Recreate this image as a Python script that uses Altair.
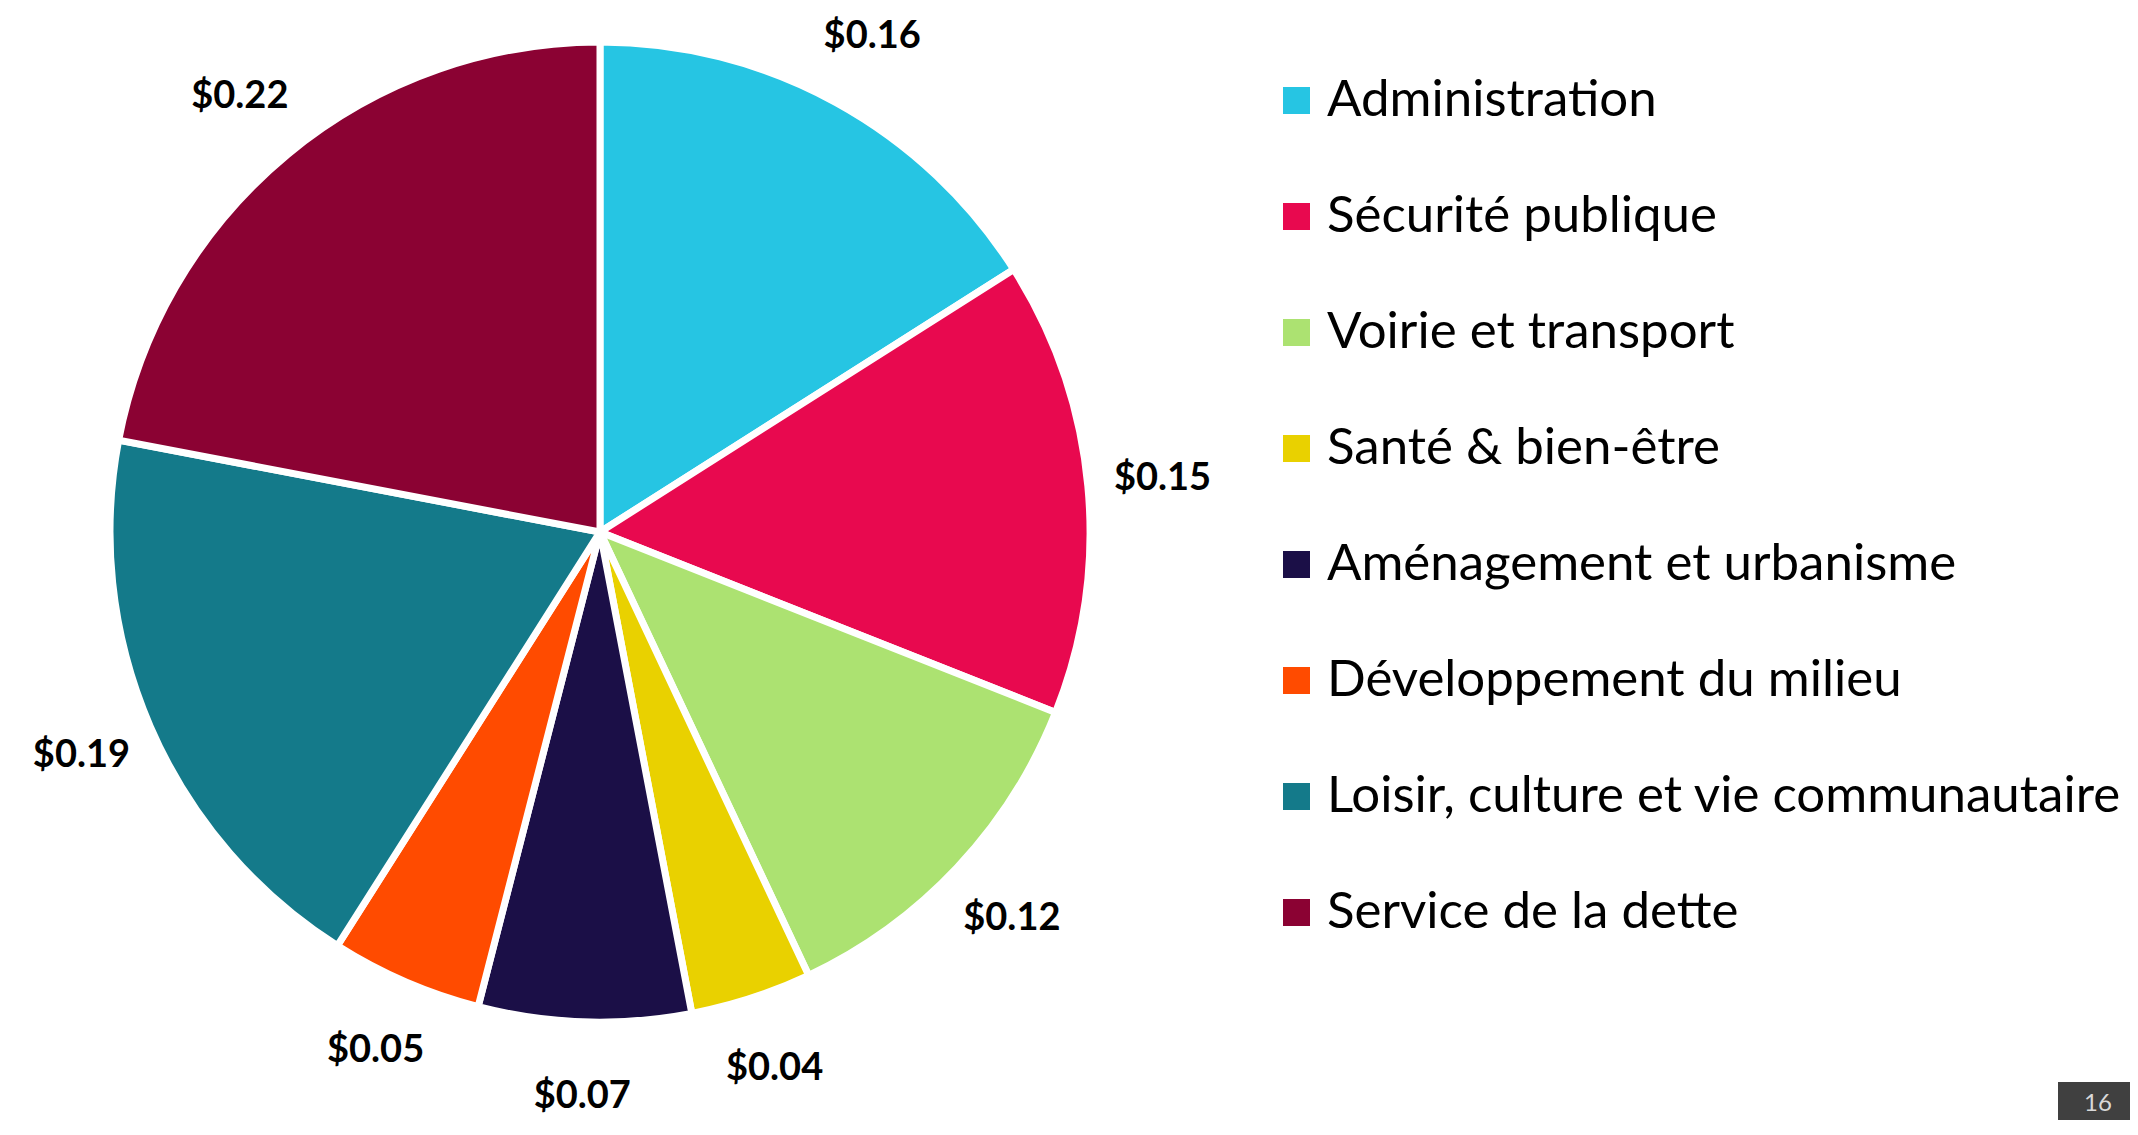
import altair as alt
import pandas as pd

categories = [
    "Administration",
    "Sécurité publique",
    "Voirie et transport",
    "Santé & bien-être",
    "Aménagement et urbanisme",
    "Développement du milieu",
    "Loisir, culture et vie communautaire",
    "Service de la dette",
]
values = [0.16, 0.15, 0.12, 0.04, 0.07, 0.05, 0.19, 0.22]
labels = ["$0.16", "$0.15", "$0.12", "$0.04", "$0.07", "$0.05", "$0.19", "$0.22"]
colors = ["#26C5E3", "#E8094F", "#ACE271", "#E9D100", "#1B0F47", "#FF4B00", "#147A8A", "#8B0233"]

df = pd.DataFrame({
    "categorie": categories,
    "valeur": values,
    "etiquette": labels,
    "ordre": list(range(len(categories))),
})

CX, CY = 592, 524
FONT = "Lato"

color = alt.Color(
    "categorie:N",
    scale=alt.Scale(domain=categories, range=colors),
    legend=alt.Legend(
        title=None,
        orient="none",
        legendX=1263,
        legendY=67,
        padding=0,
        symbolType="square",
        symbolSize=729,
        symbolStrokeWidth=0,
        labelFont=FONT,
        labelFontSize=51,
        labelColor="#000000",
        labelOffset=5,
        labelLimit=1200,
        rowPadding=64,
    ),
)

base = alt.Chart(df).encode(
    theta=alt.Theta("valeur:Q", stack=True),
    order=alt.Order("ordre:Q"),
    x=alt.value(CX),
    y=alt.value(CY),
)

pie = base.mark_arc(radius=490, stroke="white", strokeWidth=7).encode(color=color)

text = base.mark_text(radius=565, font=FONT, fontSize=38, fontWeight="bold", color="#000000").encode(
    text="etiquette:N"
)

page = pd.DataFrame({"page": ["16"]})
box = alt.Chart(page).mark_rect(color="#404040").encode(
    x=alt.value(2050), x2=alt.value(2122), y=alt.value(1074), y2=alt.value(1112)
)
num = alt.Chart(page).mark_text(color="#d9d9d9", fontSize=24, font=FONT, baseline="top").encode(
    x=alt.value(2090), y=alt.value(1084), text="page:N"
)

chart = alt.layer(pie, text, box, num).properties(
    width=2122,
    height=1112,
    autosize=alt.AutoSizeParams(type="none"),
    padding=0,
).configure_view(stroke=None)

chart.save("out.html", embed_options={"renderer": "svg", "actions": False})
